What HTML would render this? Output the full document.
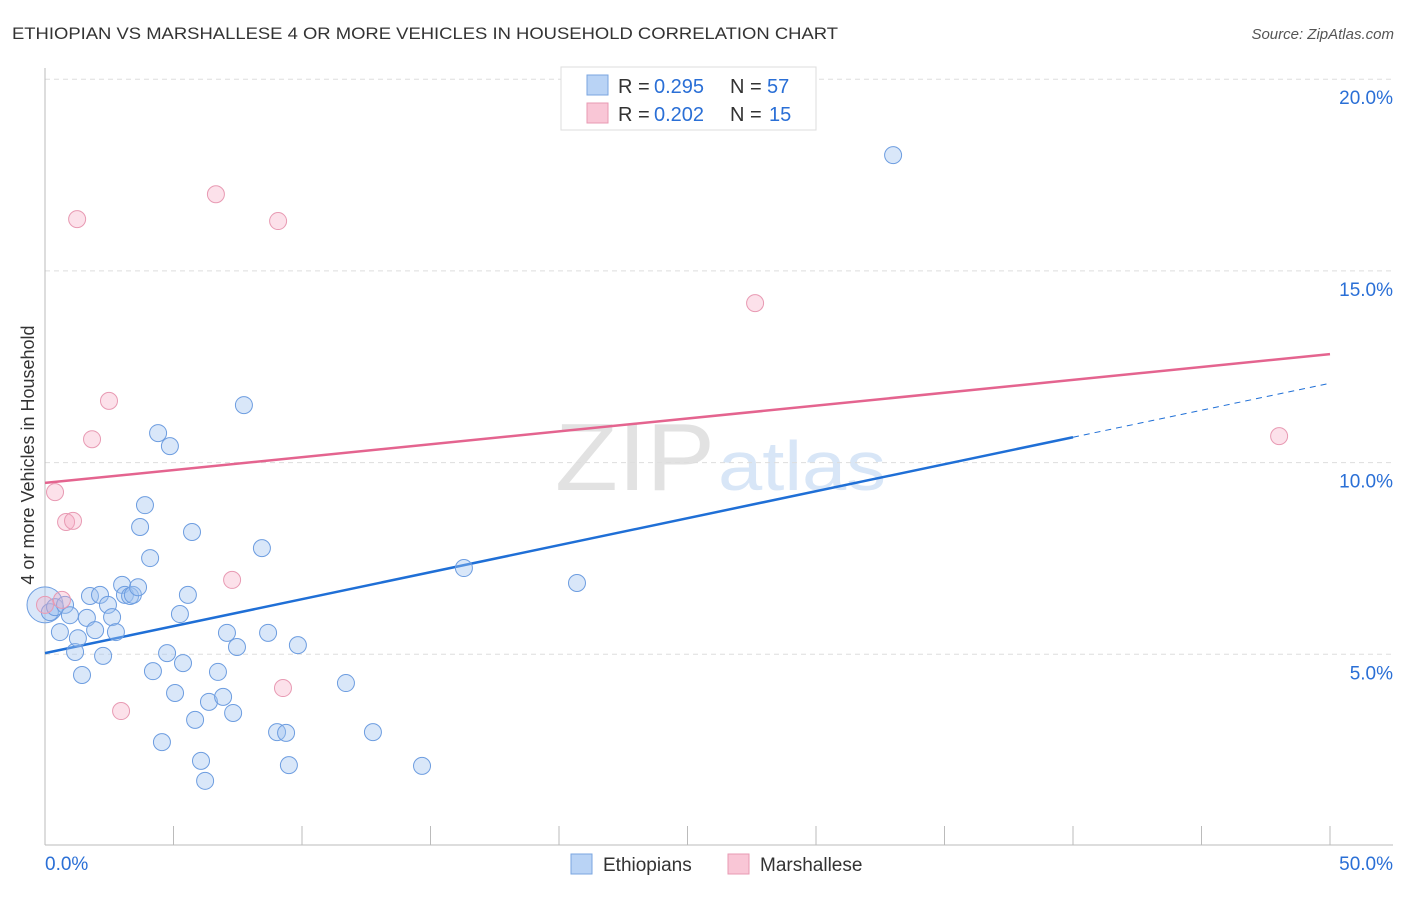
<!DOCTYPE html>
<html><head><meta charset="utf-8"><style>
body{margin:0;background:#fff;font-family:"Liberation Sans",sans-serif;}
svg text{font-family:"Liberation Sans",sans-serif;}
</style></head><body>
<svg id="chart" width="1406" height="892">
<text x="12" y="39" font-size="17" fill="#333" textLength="826" lengthAdjust="spacingAndGlyphs">ETHIOPIAN VS MARSHALLESE 4 OR MORE VEHICLES IN HOUSEHOLD CORRELATION CHART</text>
<text x="1394" y="39" font-size="15" fill="#555" text-anchor="end" font-style="italic">Source: ZipAtlas.com</text>
<text x="555" y="490" font-size="96" fill="#e2e2e2" textLength="160" lengthAdjust="spacingAndGlyphs" font-family="Liberation Serif">ZIP</text>
<text x="718" y="490" font-size="70" fill="#d8e6f7" textLength="168" lengthAdjust="spacingAndGlyphs">atlas</text>
<g id="grid"></g><g id="axes"></g><g id="lines"></g><g id="pts"></g>
<text transform="translate(34,455) rotate(-90)" font-size="18" fill="#333" text-anchor="middle">4 or more Vehicles in Household</text>
<g>
<rect x="561" y="67" width="255" height="63" fill="#fff" stroke="#ddd"/>
<rect x="587" y="75" width="21" height="20" fill="#b9d3f5" stroke="#7aa6e0"/>
<rect x="587" y="103" width="21" height="20" fill="#f9c6d6" stroke="#e89ab3"/>
<text x="618" y="93" font-size="20" fill="#333">R =</text>
<text x="654" y="93" font-size="20" fill="#2a6fd6">0.295</text>
<text x="730" y="93" font-size="20" fill="#333">N =</text>
<text x="767" y="93" font-size="20" fill="#2a6fd6">57</text>
<text x="618" y="121" font-size="20" fill="#333">R =</text>
<text x="654" y="121" font-size="20" fill="#2a6fd6">0.202</text>
<text x="730" y="121" font-size="20" fill="#333">N =</text>
<text x="769" y="121" font-size="20" fill="#2a6fd6">15</text>
</g>
<g>
<rect x="571" y="854" width="21" height="20" fill="#b9d3f5" stroke="#7aa6e0"/>
<text x="603" y="871" font-size="19" fill="#333">Ethiopians</text>
<rect x="728" y="854" width="21" height="20" fill="#f9c6d6" stroke="#e89ab3"/>
<text x="760" y="871" font-size="19" fill="#333">Marshallese</text>
</g>
</svg>
<script>
const yTicks=[5,10,15,20];
const xTickLabels=["0.0%","50.0%"];
const blueX=[0,0.19,0.39,0.58,0.78,0.97,1.17,1.28,1.44,1.63,1.75,1.95,2.14,2.26,2.45,2.61,2.76,3.00,3.11,3.31,3.42,3.62,3.70,3.89,4.09,4.20,4.40,4.55,4.75,4.86,5.06,5.25,5.37,5.56,5.72,5.84,6.07,6.23,6.38,6.73,6.93,7.08,7.32,7.47,7.74,8.44,8.68,9.03,9.38,9.49,9.84,11.71,12.76,14.67,16.30,20.70,33.00];
const blueY=[6.29,6.10,6.23,5.58,6.29,6.02,5.06,5.42,4.46,5.95,6.52,5.63,6.55,4.96,6.29,5.97,5.58,6.81,6.55,6.52,6.55,6.75,8.32,8.89,7.51,4.56,10.77,2.71,5.03,10.43,3.99,6.05,4.77,6.55,8.19,3.29,2.22,1.70,3.76,4.54,3.89,5.56,3.47,5.19,11.50,7.77,5.56,2.97,2.95,2.11,5.24,4.25,2.97,2.09,7.25,6.86,18.02];
const pinkX=[0,0.39,0.66,0.82,1.09,1.25,1.83,2.49,2.96,6.65,7.28,9.07,9.26,27.63,48.02];
const pinkY=[6.29,9.23,6.42,8.45,8.48,16.35,10.61,11.61,3.52,17.00,6.94,16.30,4.12,14.16,10.69];
const blueTrend=[5.03,12.07];
const blueSolidEnd=40;
const pinkTrend=[9.47,12.83];
const NS="http://www.w3.org/2000/svg";
const X=v=>45+v/50*1285, Y=v=>846-v/5*191.7;
function mk(p,t,a){const e=document.createElementNS(NS,t);for(const k in a)e.setAttribute(k,a[k]);document.getElementById(p).appendChild(e);return e;}
yTicks.forEach(t=>{
 const l=mk('grid','line',{x1:45,x2:1393,y1:Y(t),y2:Y(t),stroke:'#ddd','stroke-dasharray':'5,4'});
 
 
 const tx=mk('grid','text',{x:1393,y:Y(t)+25,'font-size':19,fill:'#2a6fd6','text-anchor':'end'});tx.textContent=t.toFixed(1)+'%';
 
 
});
mk('axes','line',{x1:45,x2:45,y1:68,y2:845,stroke:'#bbb'});
mk('axes','line',{x1:45,x2:1393,y1:845,y2:845,stroke:'#bbb'});
for(let i=0;i<=10;i++){mk('axes','line',{x1:X(i*5),x2:X(i*5),y1:826,y2:845,stroke:'#bbb'});}
const xl0=mk('axes','text',{x:45,y:870,'font-size':19,fill:'#2a6fd6'});xl0.textContent=xTickLabels[0];


const xl1=mk('axes','text',{x:1393,y:870,'font-size':19,fill:'#2a6fd6','text-anchor':'end'});xl1.textContent=xTickLabels[1];


const bt=v=>blueTrend[0]+(blueTrend[1]-blueTrend[0])*v/50;
const pt=v=>pinkTrend[0]+(pinkTrend[1]-pinkTrend[0])*v/50;
const b1=mk('lines','line',{x1:X(0),y1:Y(bt(0)),x2:X(blueSolidEnd),y2:Y(bt(blueSolidEnd)),stroke:'#1f6fd6','stroke-width':2.5});


const b2=mk('lines','line',{x1:X(blueSolidEnd),y1:Y(bt(blueSolidEnd)),x2:X(50),y2:Y(bt(50)),stroke:'#1f6fd6','stroke-width':1,'stroke-dasharray':'6,5'});


const p1=mk('lines','line',{x1:X(0),y1:Y(pt(0)),x2:X(50),y2:Y(pt(50)),stroke:'#e4648f','stroke-width':2.5});


blueX.forEach((v,i)=>{
 const c=mk('pts','circle',{cx:X(v),cy:Y(blueY[i]),r:i==0?18:8.5,fill:'rgba(160,196,240,0.4)',stroke:'#6d9de0','stroke-width':1});
 
 
});
pinkX.forEach((v,i)=>{
 const c=mk('pts','circle',{cx:X(v),cy:Y(pinkY[i]),r:8.5,fill:'rgba(245,170,195,0.35)',stroke:'#e89ab3','stroke-width':1});
 
 
});
</script>
</body></html>
